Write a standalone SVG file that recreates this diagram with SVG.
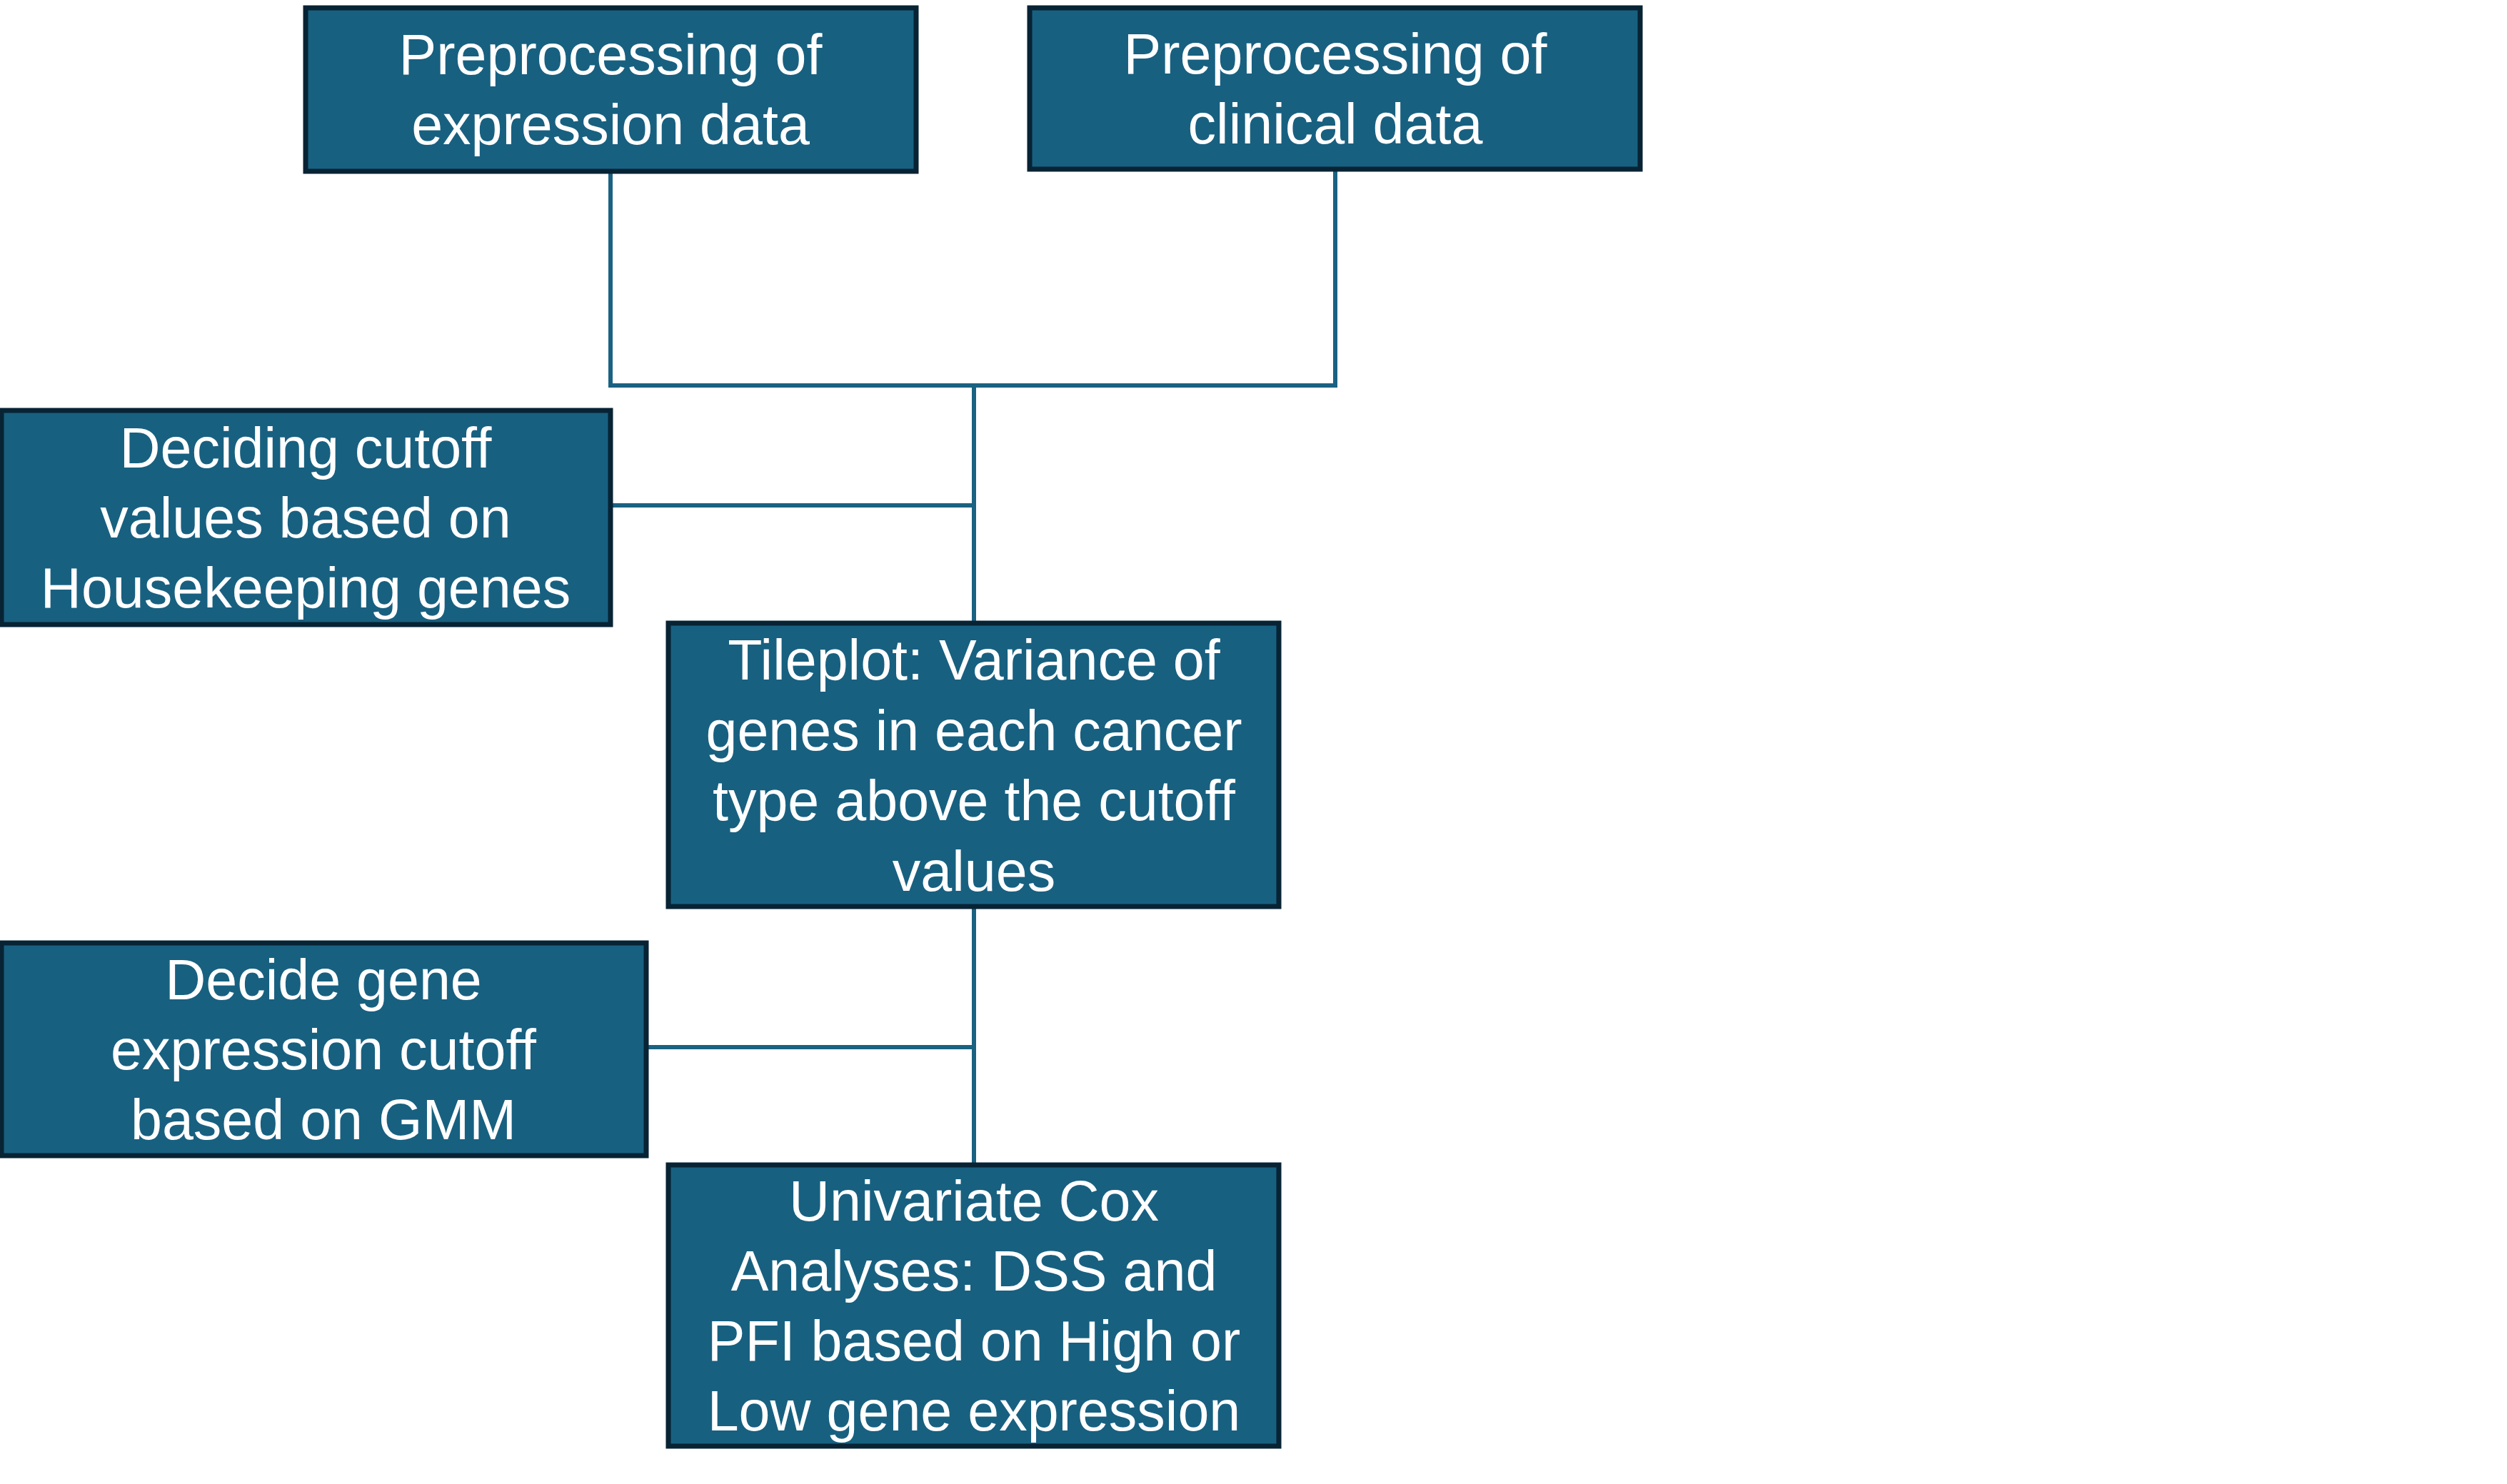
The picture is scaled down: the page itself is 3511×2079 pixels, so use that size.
<svg xmlns="http://www.w3.org/2000/svg" width="3511" height="2079" viewBox="0 0 3511 2079">
<style>
.box{fill:#186080;stroke:#072334;stroke-width:7}
.lbl{font-family:"Liberation Sans",Arial,sans-serif;font-size:79px;fill:#ffffff;text-anchor:middle}
.conn{stroke:#1a6282;stroke-width:6;fill:none}
</style>
<rect x="0" y="0" width="3511" height="2079" fill="#ffffff"/>
<g id="connectors">
<polyline class="conn" points="855,240 855,540 1870,540 1870,237"/>
<line class="conn" x1="1364" y1="540" x2="1364" y2="873"/>
<line class="conn" x1="855" y1="708" x2="1364" y2="708"/>
<line class="conn" x1="1364" y1="1270" x2="1364" y2="1632"/>
<line class="conn" x1="905" y1="1467" x2="1364" y2="1467"/>
</g>
<g id="node-expr">
<rect class="box" x="428" y="11" width="855" height="229"/>
<text class="lbl" x="855" y="104">Preprocessing of</text>
<text class="lbl" x="855" y="202">expression data</text>
</g>
<g id="node-clin">
<rect class="box" x="1442" y="11" width="855" height="226"/>
<text class="lbl" x="1870" y="103">Preprocessing of</text>
<text class="lbl" x="1870" y="201">clinical data</text>
</g>
<g id="node-cutoff">
<rect class="box" x="2" y="575" width="853" height="300"/>
<text class="lbl" x="428" y="655">Deciding cutoff</text>
<text class="lbl" x="428" y="753">values based on</text>
<text class="lbl" x="428" y="851">Housekeeping genes</text>
</g>
<g id="node-tileplot">
<rect class="box" x="936" y="873" width="855" height="397"/>
<text class="lbl" x="1364" y="952">Tileplot: Variance of</text>
<text class="lbl" x="1364" y="1051">genes in each cancer</text>
<text class="lbl" x="1364" y="1149">type above the cutoff</text>
<text class="lbl" x="1364" y="1248">values</text>
</g>
<g id="node-gmm">
<rect class="box" x="2" y="1321" width="903" height="298"/>
<text class="lbl" x="453" y="1400">Decide gene</text>
<text class="lbl" x="453" y="1498">expression cutoff</text>
<text class="lbl" x="453" y="1596">based on GMM</text>
</g>
<g id="node-cox">
<rect class="box" x="936" y="1632" width="855" height="394"/>
<text class="lbl" x="1364" y="1710">Univariate Cox</text>
<text class="lbl" x="1364" y="1808">Analyses: DSS and</text>
<text class="lbl" x="1364" y="1906">PFI based on High or</text>
<text class="lbl" x="1364" y="2004">Low gene expression</text>
</g>
</svg>
